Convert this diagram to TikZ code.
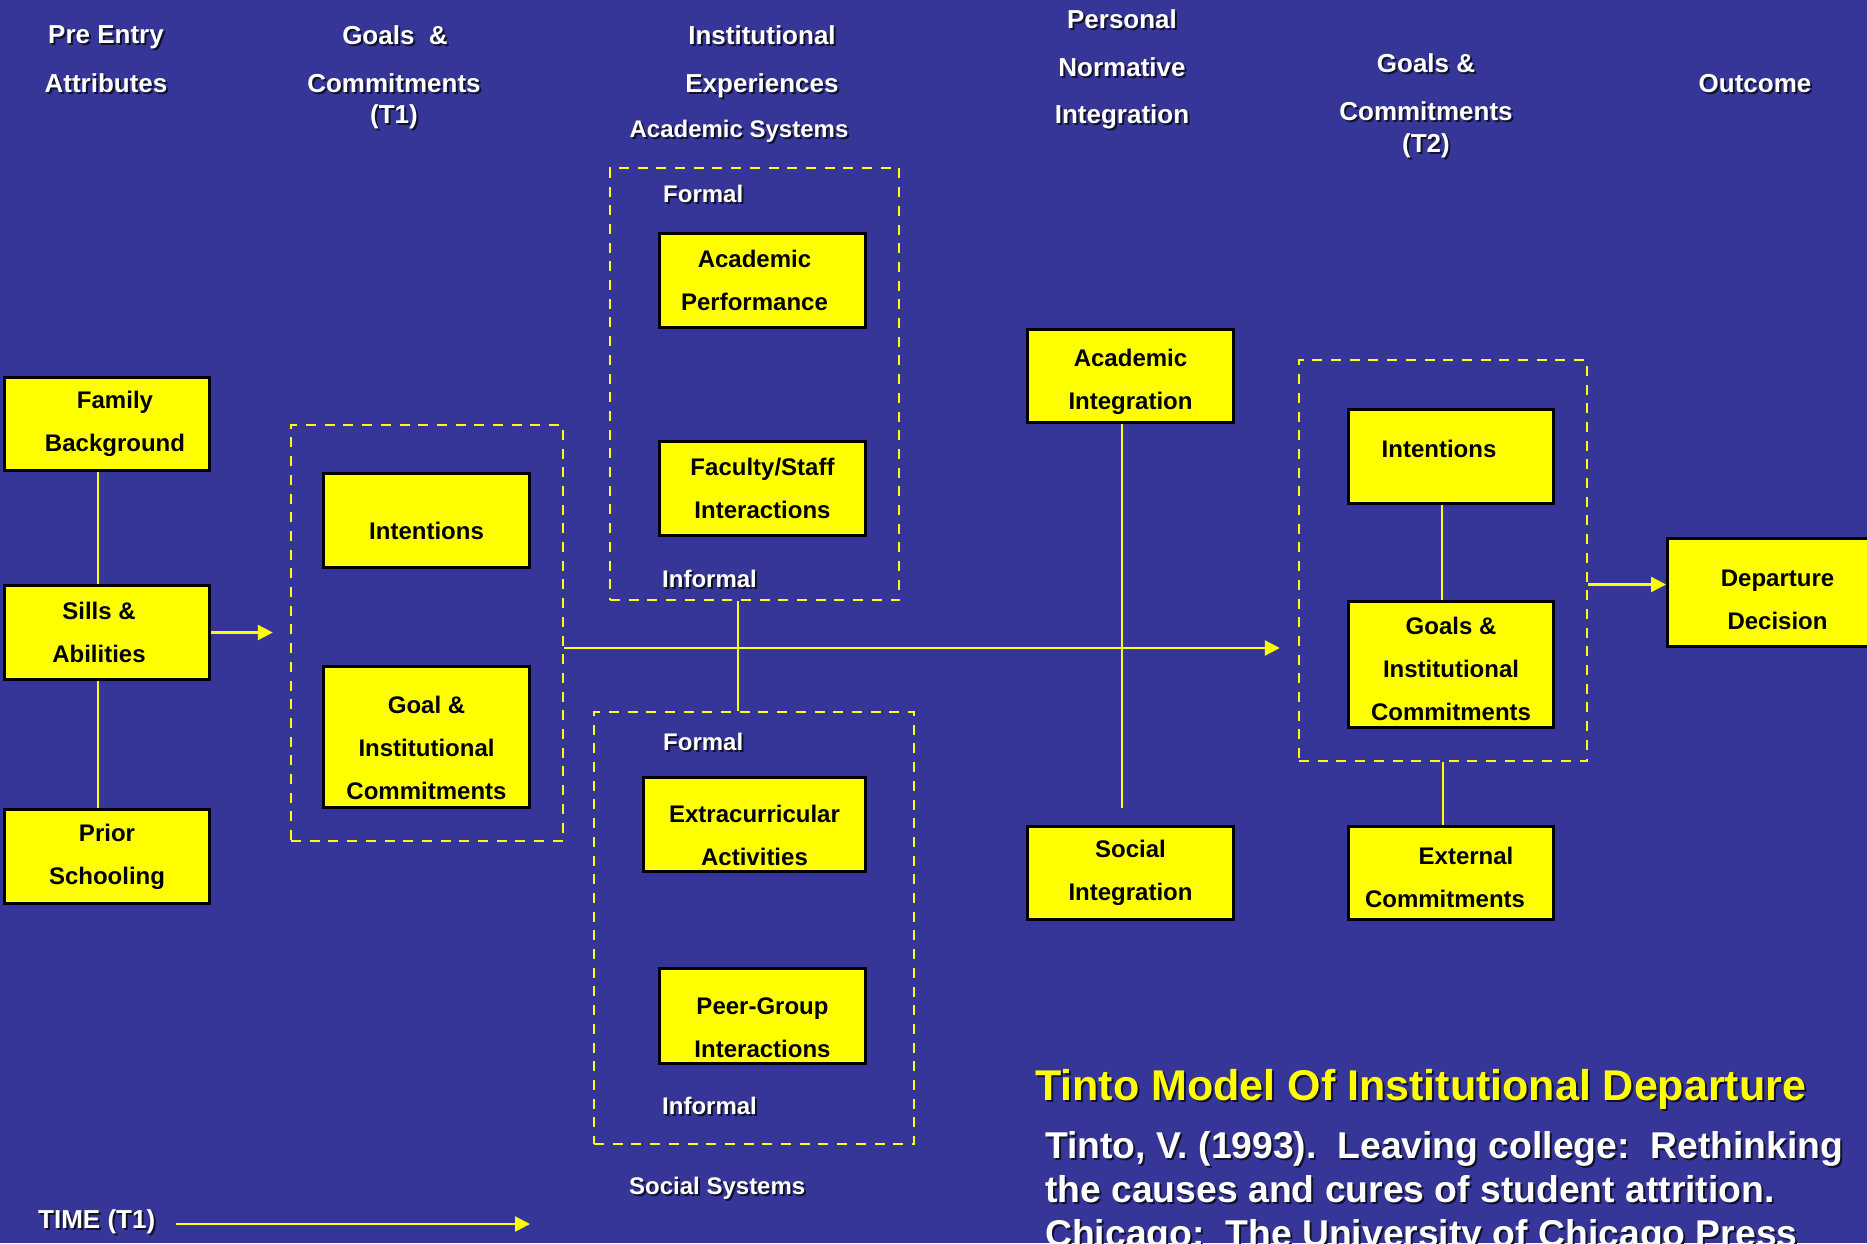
\documentclass[tikz,border=0pt]{standalone}
\usepackage{fontspec}
\setmainfont{Liberation Sans}
\usetikzlibrary{arrows.meta}
\definecolor{bg}{RGB}{54,54,153}
\definecolor{yel}{RGB}{255,255,0}
\definecolor{shad}{RGB}{18,18,45}
\newcommand{\shd}[1]{\makebox[0pt][l]{\hspace{2pt}\raisebox{-2pt}{\textcolor{shad}{#1}}}#1}
% move a line of text by dx (right) and dy (down) without changing its box
\newcommand{\mv}[3]{\raisebox{-#2}[\height][\depth]{\hspace*{#1}#3\hspace*{-#1}}}
\begin{document}
\begin{tikzpicture}[x=1pt,y=-1pt,
  hdr/.style={text=white, font=\bfseries\fontsize{26}{30}\selectfont, anchor=base, inner sep=0pt},
  lbl/.style={text=white, font=\bfseries\fontsize{24}{28}\selectfont, anchor=base west, inner sep=0pt},
  box/.style={draw=black, line width=3pt, fill=yel, text=black, font=\bfseries\fontsize{24}{43}\selectfont, align=center, inner sep=0pt},
  grp/.style={draw=yel, line width=2.5pt, dash pattern=on 10pt off 8.7pt, inner sep=0pt},
  conn/.style={draw=yel, line width=2.5pt},
  arr/.style={conn, -{Triangle[length=15pt,width=15pt]}},
  cite/.style={text=white, font=\bfseries\fontsize{37.3}{44}\selectfont, anchor=base west, inner sep=0pt}]
\useasboundingbox (0,0) rectangle (1867,1243);
\fill[bg] (0,0) rectangle (1867,1243);
\clip (0,0) rectangle (1867,1243);

% headers
\node[hdr] (h1a) at (106,43) {\shd{Pre Entry}};
\node[hdr] (h1b) at (106,92) {\shd{Attributes}};
\node[hdr] (h2a) at (395,44) {\shd{Goals\ \ \&}};
\node[hdr] (h2b) at (394,92) {\shd{Commitments}};
\node[hdr] (h2c) at (394,123) {\shd{(T1)}};
\node[hdr] (h3a) at (762,44) {\shd{Institutional}};
\node[hdr] (h3b) at (762,92) {\shd{Experiences}};
\node[hdr, font=\bfseries\fontsize{24}{28}\selectfont] (h3c) at (739,137) {\shd{Academic Systems}};
\node[hdr] (h4a) at (1122,28) {\shd{Personal}};
\node[hdr] (h4b) at (1122,76) {\shd{Normative}};
\node[hdr] (h4c) at (1122,123) {\shd{Integration}};
\node[hdr] (h5a) at (1426,72) {\shd{Goals \&}};
\node[hdr] (h5b) at (1426,120) {\shd{Commitments}};
\node[hdr] (h5c) at (1426,152) {\shd{(T2)}};
\node[hdr] (h6) at (1755,92) {\shd{Outcome}};

% dashed groups
\node[grp, minimum width=272pt, minimum height=416pt] (t1box) at (427,633) {};
\node[grp, minimum width=289pt, minimum height=432pt] (acsys) at (754.5,384) {};
\node[grp, minimum width=320pt, minimum height=432pt] (socsys) at (754,928) {};
\node[grp, minimum width=288pt, minimum height=401pt] (t2box) at (1443,560.5) {};

% group labels
\node[lbl] (f1) at (663,202) {\shd{Formal}};
\node[lbl] (i1) at (662,587) {\shd{Informal}};
\node[lbl] (f2) at (663,750) {\shd{Formal}};
\node[lbl] (i2) at (662,1114) {\shd{Informal}};
\node[lbl] (ss) at (629,1194) {\shd{Social Systems}};

% boxes
\node[box, minimum width=205pt, minimum height=93pt] (fam) at (107,424) {\mv{8pt}{0pt}{Family}\\\mv{8pt}{0pt}{Background}};
\node[box, minimum width=205pt, minimum height=94pt] (sills) at (107,632.5) {\mv{-8pt}{0pt}{Sills \&}\\\mv{-8pt}{0pt}{Abilities}};
\node[box, minimum width=205pt, minimum height=94pt] (prior) at (107,856.5) {Prior\\Schooling};
\node[box, minimum width=206pt, minimum height=94pt] (int1) at (426.5,520.5) {\mv{0pt}{10pt}{Intentions}};
\node[box, minimum width=206pt, minimum height=141pt] (goal1) at (426.5,737) {\mv{0pt}{11pt}{Goal \&}\\\mv{0pt}{11pt}{Institutional}\\\mv{0pt}{11pt}{Commitments}};
\node[box, minimum width=206pt, minimum height=94pt] (acperf) at (762.5,280.5) {\mv{-8pt}{0pt}{Academic}\\\mv{-8pt}{0pt}{Performance}};
\node[box, minimum width=206pt, minimum height=94pt] (faculty) at (762.5,488.5) {Faculty/Staff\\Interactions};
\node[box, minimum width=222pt, minimum height=94pt] (extra) at (754.5,824.5) {\mv{0pt}{11pt}{Extracurricular}\\\mv{0pt}{11pt}{Activities}};
\node[box, minimum width=206pt, minimum height=95pt] (peer) at (762.5,1016) {\mv{0pt}{12pt}{Peer-Group}\\\mv{0pt}{12pt}{Interactions}};
\node[box, minimum width=206pt, minimum height=93pt] (acint) at (1130.5,376) {\mv{0pt}{6pt}{Academic}\\\mv{0pt}{6pt}{Integration}};
\node[box, minimum width=206pt, minimum height=93pt] (socint) at (1130.5,873) {Social\\Integration};
\node[box, minimum width=205pt, minimum height=94pt] (int2) at (1451,456.5) {\mv{-12pt}{-8pt}{Intentions}};
\node[box, minimum width=205pt, minimum height=126pt] (goal2) at (1451,664.5) {\mv{0pt}{4pt}{Goals \&}\\\mv{0pt}{4pt}{Institutional}\\\mv{0pt}{4pt}{Commitments}};
\node[box, minimum width=205pt, minimum height=93pt] (ext) at (1451,873) {\mv{15pt}{4pt}{External}\\\mv{-6pt}{4pt}{Commitments}};
\node[box, minimum width=206pt, minimum height=108pt] (dep) at (1770.5,592.5) {\mv{7pt}{7pt}{Departure}\\\mv{7pt}{7pt}{Decision}};

% connectors
\draw[conn] ([xshift=-9pt]fam.south) -- ([xshift=-9pt]fam.south |- sills.north);
\draw[conn] ([xshift=-9pt]sills.south) -- ([xshift=-9pt]sills.south |- prior.north);
\draw[arr, shorten >=17pt] (sills.east) -- (sills.east -| t1box.west);
\draw[arr, shorten >=18pt] ([yshift=-15pt]t1box.east) -- ([yshift=-15pt]t1box.east -| t2box.west);
\draw[conn] ([xshift=-16.5pt]acsys.south) -- ([xshift=-16.5pt]acsys.south |- socsys.north);
\draw[conn, shorten >=17pt] ([xshift=-8.5pt]acint.south) -- ([xshift=-8.5pt]acint.south |- socint.north);
\draw[conn] ([xshift=-9pt]int2.south) -- ([xshift=-9pt]int2.south |- goal2.north);
\draw[conn] (t2box.south) -- (t2box.south |- ext.north);
\draw[arr] ([yshift=-24pt]t2box.east) -- ([yshift=-24pt]t2box.east -| dep.west);

% time arrow
\node[hdr, anchor=base west] (time) at (38,1228) {\shd{TIME (T1)}};
\coordinate (tend) at (530,1224);
\draw[arr] ([xshift=21pt]time.east |- tend) -- (tend);

% title and citation
\node[anchor=base west, inner sep=0pt, text=yel, font=\bfseries\fontsize{43}{50}\selectfont] (title) at (1035,1100) {\shd{Tinto Model Of Institutional Departure}};
\node[cite] (c1) at (1045,1158) {\shd{Tinto, V. (1993).\ \ Leaving college:\ \ Rethinking}};
\node[cite] (c2) at (1045,1202) {\shd{the causes and cures of student attrition.}};
\node[cite] (c3) at (1045,1246) {\shd{Chicago:\ \ The University of Chicago Press}};
\end{tikzpicture}
\end{document}
